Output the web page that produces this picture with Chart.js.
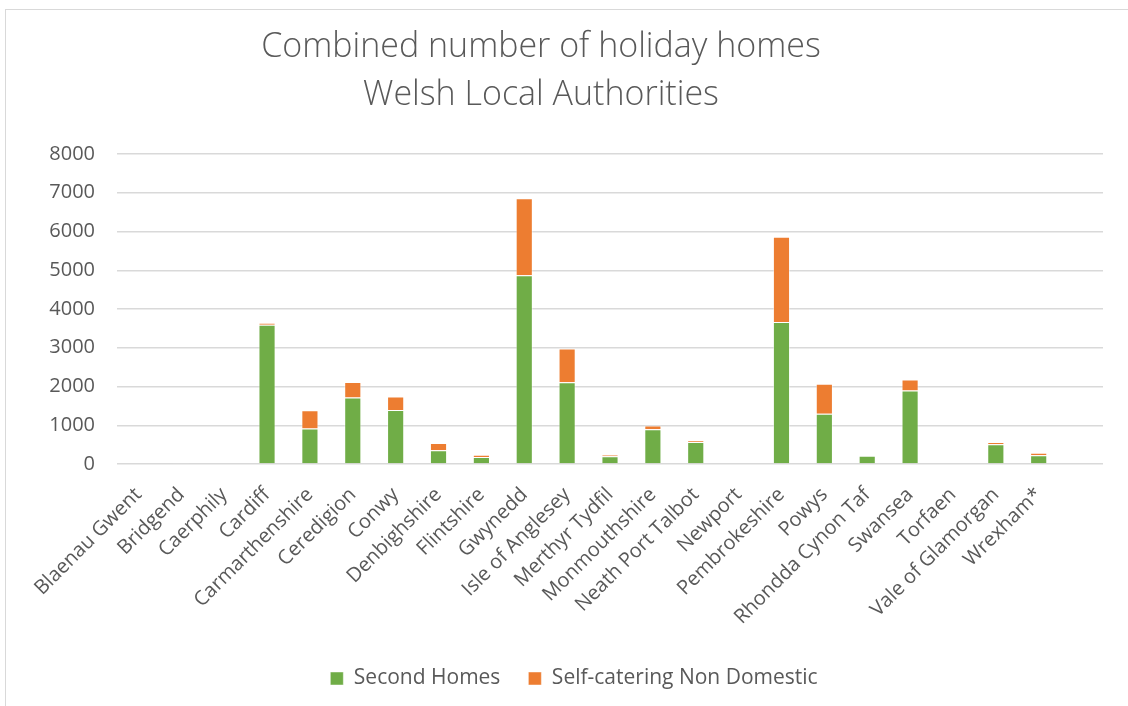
<!DOCTYPE html>
<html>
<head>
<meta charset="utf-8">
<script src="https://cdn.jsdelivr.net/npm/chart.js@4.4.1/dist/chart.umd.min.js"></script>
<style>
html,body{margin:0;padding:0;background:#fff;}
#frame{position:absolute;left:5px;top:9px;width:1200px;height:800px;border-top:1.5px solid #D9D9D9;border-left:1.5px solid #D9D9D9;}
#wrap{position:absolute;left:0;top:0;width:1128px;height:706px;}
</style>
</head>
<body>
<div id="frame"></div>
<div id="wrap"><canvas id="c" width="1128" height="706"></canvas></div>
<script>
const categories = ["Blaenau Gwent","Bridgend","Caerphily","Cardiff","Carmarthenshire","Ceredigion","Conwy","Denbighshire","Flintshire","Gwynedd","Isle of Anglesey","Merthyr Tydfil","Monmouthshire","Neath Port Talbot","Newport","Pembrokeshire","Powys","Rhondda Cynon Taf","Swansea","Torfaen","Vale of Glamorgan","Wrexham*",""];
const secondHomes = [0,0,0,3596,915,1718,1391,355,181,4871,2111,197,897,570,0,3663,1295,215,1896,0,508,223,null];
const selfCatering = [0,25,0,51,475,398,353,189,60,1984,872,44,95,34,0,2199,777,0,285,0,62,70,null];
const yTicks = [0,1000,2000,3000,4000,5000,6000,7000,8000];
const titleLines = ["Combined number of holiday homes","Welsh Local Authorities"];

const FONT = "'Open Sans', sans-serif";
const TXT = "#595959";

const titlePlugin = {
  id:'customTitle',
  afterDraw(chart){
    const ctx = chart.ctx;
    ctx.save();
    ctx.fillStyle = TXT;
    ctx.font = "300 34px " + FONT;
    ctx.textAlign = 'center';
    ctx.textBaseline = 'middle';
    ctx.fillText(titleLines[0], 541, 47);
    ctx.fillText(titleLines[1], 541, 95);
    ctx.restore();
  }
};

new Chart(document.getElementById('c'), {
  type: 'bar',
  data: {
    labels: categories,
    datasets: [
      {label:"Second Homes", data: secondHomes, backgroundColor:"#70AD47", borderColor:"rgba(255,255,255,0.45)", borderWidth:1, barPercentage:0.4, categoryPercentage:1},
      {label:"Self-catering Non Domestic", data: selfCatering, backgroundColor:"#ED7D31", borderColor:"rgba(255,255,255,0.45)", borderWidth:1, barPercentage:0.4, categoryPercentage:1}
    ]
  },
  plugins:[titlePlugin],
  options: {
    responsive:false,
    animation:false,
    layout:{padding:{left:45,right:25,top:154,bottom:7}},
    plugins:{
      title:{display:false},
      legend:{position:'bottom', labels:{color:TXT, font:{family:FONT,size:21}, boxWidth:13, boxHeight:13, padding:28}},
      tooltip:{enabled:false}
    },
    scales:{
      x:{stacked:true,
         grid:{display:false, drawTicks:false},
         border:{display:false},
         ticks:{color:TXT, font:{family:FONT,size:20}, maxRotation:45, minRotation:45, autoSkip:false, padding:19},
         afterFit:(s)=>{s.height=176;}
      },
      y:{stacked:true, min:0, max:8000,
         afterBuildTicks:(s)=>{s.ticks = yTicks.map(v=>({value:v}));},
         grid:{color:"#D9D9D9", lineWidth:1.5, drawTicks:false},
         border:{display:false},
         ticks:{color:TXT, font:{family:FONT,size:20}, padding:22, callback:(v)=>String(v)},
         afterFit:(s)=>{s.width=72;}
      }
    }
  }
});
</script>
</body>
</html>
